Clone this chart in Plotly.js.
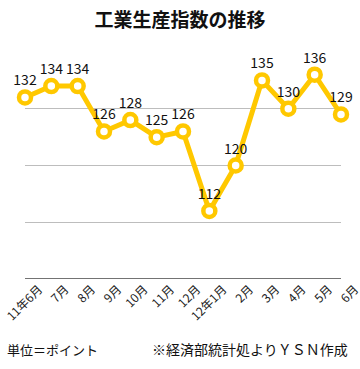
<!DOCTYPE html>
<html><head><meta charset="utf-8">
<script src="https://cdn.plot.ly/plotly-3.0.1.min.js"></script>
<style>html,body{margin:0;padding:0;background:#fff;}#c{width:360px;height:369px;}</style>
</head><body><div id="c"></div>
<script>
const months = ["11年6月","7月","8月","9月","10月","11月","12月","12年1月","2月","3月","4月","5月","6月"];
const values = [132,134,134,126,128,125,126,112,120,135,130,136,129];
const yTicks = [100,110,120,130,140];
const F = '"Noto Sans CJK JP", "Noto Sans", sans-serif';
const trace = {
  x: months.map((m,i)=>i), y: values, type:'scatter', mode:'lines+markers+text',
  text: values.map(String), textposition:'top center', cliponaxis:false,
  textfont:{family:F, size:14, color:'#111'},
  line:{color:'#FFC800', width:5},
  marker:{size:12, color:'#fff', line:{color:'#FFC800', width:4.5}},
  hoverinfo:'none'
};
const layout = {
  width:360, height:369, margin:{l:25, r:19, t:52, b:90},
  paper_bgcolor:'#fff', plot_bgcolor:'#fff', showlegend:false,
  title:{text:'工業生産指数の推移', font:{family:F, size:19, color:'#111', weight:'bold'}, x:0.5, xanchor:'center', y:0.945, yanchor:'middle'},
  xaxis:{range:[0,12], tickmode:'array', tickvals:months.map((m,i)=>i), ticktext:months, tickangle:-45,
    ticklabeloverflow:'allow', ticklabelshift:14, ticklabelstandoff:0,
    tickfont:{family:F, size:12, color:'#222'}, showgrid:false, zeroline:false, showline:false, ticks:'', fixedrange:true},
  yaxis:{range:[100,140], tickvals:yTicks, showticklabels:false, showgrid:true, gridcolor:'#bdbdbd', gridwidth:1, zeroline:false, showline:false, ticks:''},
  shapes:[{type:'line', xref:'paper', yref:'y', x0:0, x1:1, y0:100, y1:100, line:{color:'#444', width:1.5}}],
  annotations:[
    {text:'単位＝ポイント', xref:'paper', yref:'paper', x:-0.063, y:-0.31, xanchor:'left', yanchor:'middle', showarrow:false, font:{family:F, size:13, color:'#111'}},
    {text:'※経済部統計処よりＹＳＮ作成', xref:'paper', yref:'paper', x:1.03, y:-0.31, xanchor:'right', yanchor:'middle', showarrow:false, font:{family:F, size:14, color:'#111'}}
  ]
};
Plotly.newPlot('c', [trace], layout, {displayModeBar:false, staticPlot:true});
</script></body></html>
